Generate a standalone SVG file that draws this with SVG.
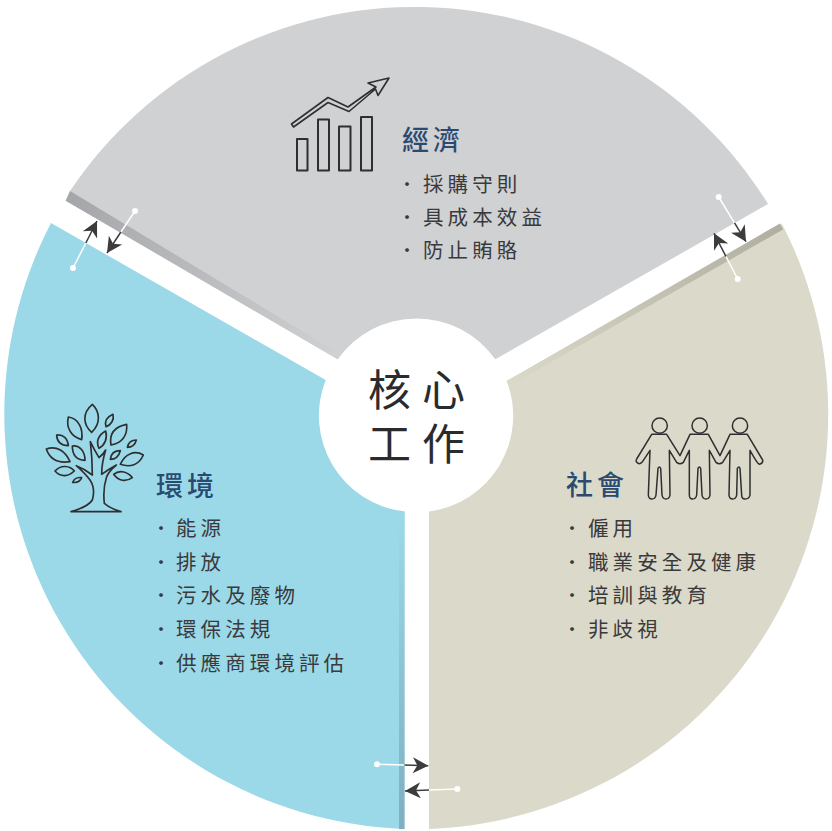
<svg xmlns="http://www.w3.org/2000/svg" width="832" height="831" viewBox="0 0 832 831">
<style>
text{font-family:"Noto Sans CJK TC","Noto Sans CJK SC",sans-serif}
.c{font-family:"Liberation Sans","Noto Sans CJK TC",sans-serif;font-size:43px;fill:#2b2b2d;letter-spacing:11px}
.h{font-size:27px;fill:#2c4a70;font-weight:500;letter-spacing:4px}
.i{font-size:20.500px;fill:#3a3a3c;letter-spacing:4.100px}
.b{fill:#3a3a3c}
.ic{fill:none;stroke:#2f2f31;stroke-linejoin:round;stroke-linecap:round}
.w{stroke:#fff;stroke-width:1.5;fill:none}
.d{stroke:#3c3c3e;stroke-width:1.5;fill:none;marker-end:url(#ah)}
.dot{fill:#fff}
</style>
<defs>
<marker id="ah" markerUnits="userSpaceOnUse" markerWidth="20" markerHeight="20" viewBox="-17 -10 20 20" refX="0" refY="0" orient="auto"><path d="M0,0L-15.500,-8L-11,0L-15.500,8Z" fill="#3c3c3e"/></marker>
<linearGradient id="gg" gradientUnits="userSpaceOnUse" x1="66" y1="198" x2="340" y2="356"><stop offset="0" stop-color="#a5a6a9"/><stop offset="1" stop-color="#d0d1d3"/></linearGradient>
<linearGradient id="gb" gradientUnits="userSpaceOnUse" x1="402" y1="829" x2="402" y2="512"><stop offset="0" stop-color="#7fafc1"/><stop offset="1" stop-color="#9bd9e9"/></linearGradient>
<linearGradient id="gy" gradientUnits="userSpaceOnUse" x1="782" y1="226" x2="507" y2="382"><stop offset="0" stop-color="#afae9f"/><stop offset="1" stop-color="#dbd9c9"/></linearGradient>
</defs>
<rect width="832" height="831" fill="#fff"/>
<g id="economy">
<path d="M70,191A415,415 0 0 1 768,204L495.300,359.300A96.500,96.500 0 0 0 337.700,359.300L65.700,200.700Z" fill="#d0d1d3"/>
<path d="M70,191L65.700,200.700L337.700,359.300L341,354.500Z" fill="url(#gg)"/>
<g class="ic" stroke-width="1.6">
<path d="M291.500,124L328,97.500L348,107L376,87L368,83L389,78L378,95.500L375.500,89L349,111.500L328,102.500L293.500,127Z"/>
<rect x="297" y="139" width="10.500" height="31.500" stroke-width="2"/>
<rect x="318" y="119.500" width="11" height="51" stroke-width="2"/>
<rect x="339" y="126.500" width="11.500" height="44" stroke-width="2"/>
<rect x="361" y="117" width="11" height="53.500" stroke-width="2"/>
</g>
<text class="h" x="402" y="150">經濟</text>
<text class="b" font-size="18" x="398" y="191">•</text><text class="i" x="423" y="192">採購守則</text>
<text class="b" font-size="18" x="398" y="224">•</text><text class="i" x="423" y="225">具成本效益</text>
<text class="b" font-size="18" x="398" y="257">•</text><text class="i" x="423" y="258">防止賄賂</text>
</g>
<g id="environment">
<path d="M51,223L325.700,380A96.500,96.500 0 0 0 404.500,511.500L404.500,829A415,415 0 0 1 51,223Z" fill="#9bd9e9"/>
<path d="M399,510.500L404.500,511.500L404.500,829L399,828.900Z" fill="url(#gb)"/>
<g class="ic" transform="translate(35,395) scale(.33333)" style="stroke-width:5">
<path d="M172,28C195,50,198,85,170,112C145,90,140,55,172,28Z"/>
<path d="M100,66C130,70,145,100,140,134C110,125,92,100,100,66Z"/>
<path d="M234,58C238,75,228,90,213,95C208,78,218,65,234,58Z"/>
<path d="M275,88C278,120,262,145,228,150C222,115,240,95,275,88Z"/>
<path d="M212,108C218,130,210,150,192,160C182,140,190,120,212,108Z"/>
<path d="M65,120C85,118,98,130,100,152C80,152,66,142,65,120Z"/>
<path d="M304,135C300,150,290,157,277,157C280,142,290,135,304,135Z"/>
<path d="M34,162C65,150,92,170,105,200C70,205,45,195,34,162Z"/>
<path d="M112,153C135,150,150,170,150,196C125,195,112,180,112,153Z"/>
<path d="M256,167C252,182,242,193,226,193C228,175,240,167,256,167Z"/>
<path d="M325,180C300,165,270,175,256,208C285,218,312,210,325,180Z"/>
<path d="M60,228C78,208,105,212,118,228C100,245,78,248,60,228Z"/>
<path d="M236,238C255,222,280,232,292,248C272,262,250,258,236,238Z"/>
<path d="M113,262C118,250,130,246,140,248C135,260,125,264,113,262Z"/>
<path d="M108,350Q160,335,172,315Q182,280,165,255Q150,235,124,212Q150,222,172,240Q172,190,166,140Q178,165,192,188Q205,178,212,165Q200,205,200,238Q222,222,244,210Q222,228,215,245Q203,280,208,325Q225,340,258,350Z"/>
</g>
<text class="h" x="156" y="496">環境</text>
<text class="b" font-size="18" x="152" y="535">•</text><text class="i" x="176" y="536">能源</text>
<text class="b" font-size="18" x="152" y="569">•</text><text class="i" x="176" y="570">排放</text>
<text class="b" font-size="18" x="152" y="602">•</text><text class="i" x="176" y="603">污水及廢物</text>
<text class="b" font-size="18" x="152" y="636">•</text><text class="i" x="176" y="637">環保法規</text>
<text class="b" font-size="18" x="152" y="670">•</text><text class="i" x="176" y="671">供應商環境評估</text>
</g>
<g id="society">
<path d="M782,224A415,415 0 0 1 429,829L429,511.500A96.500,96.500 0 0 0 506.700,381Z" fill="#dbd9c9"/>
<path d="M780,223.500L783,229.500L509,386L506.700,381Z" fill="url(#gy)"/>
<g class="ic" transform="translate(630,405) scale(.33333)" style="stroke-width:4.5">
<circle cx="89" cy="62" r="23"/><circle cx="209" cy="62" r="23"/><circle cx="330" cy="62" r="23"/>
<path d="M65,88L110,88L150,152L180,88L235,88L270,152L300,88L352,88L398,165Q400,175,388,178Q382,176,360,136L360,270Q358,282,345,282Q335,282,335,270L330,190Q327,182,322,190L320,270Q318,282,308,282Q298,282,297,270L300,136L278,172Q268,180,258,172L238,136L240,270Q238,282,228,282Q218,282,216,270L212,190Q208,182,204,190L200,270Q198,282,188,282Q178,282,178,270L178,136L160,172Q150,180,140,172L118,136L120,270Q118,282,108,282Q98,282,96,270L92,190Q88,182,84,190L78,270Q76,282,66,282Q56,282,55,270L60,136L36,172Q28,180,20,172Q17,168,20,162Z"/>
</g>
<text class="h" x="566" y="495">社會</text>
<text class="b" font-size="18" x="563" y="535">•</text><text class="i" x="588" y="536">僱用</text>
<text class="b" font-size="18" x="563" y="569">•</text><text class="i" x="588" y="570">職業安全及健康</text>
<text class="b" font-size="18" x="563" y="602">•</text><text class="i" x="588" y="603">培訓與教育</text>
<text class="b" font-size="18" x="563" y="636">•</text><text class="i" x="588" y="637">非歧視</text>
</g>
<g id="core">
<text class="c" x="368" y="406">核心</text>
<text class="c" x="368" y="460">工作</text>
</g>
<g id="connectors">
<path class="w" d="M73,268L85.800,243"/><path class="d" d="M85.800,243L97,221"/><circle class="dot" cx="73" cy="268" r="3"/>
<path class="w" d="M135,211L120.900,232"/><path class="d" d="M120.900,232L107,253"/><circle class="dot" cx="135" cy="211" r="3"/>
<path class="w" d="M718.700,197L734.500,222.900"/><path class="d" d="M734.500,222.900L746,241.700"/><circle class="dot" cx="718.700" cy="197" r="3"/>
<path class="w" d="M737.700,279L725.900,256.300"/><path class="d" d="M725.900,256.300L714,233.300"/><circle class="dot" cx="737.700" cy="279" r="3"/>
<path class="w" d="M377,764.300L404.500,765"/><path class="d" d="M404.500,765L428.300,765.700"/><circle class="dot" cx="377" cy="764.300" r="3"/>
<path class="w" d="M457.300,789L429,790"/><path class="d" d="M429,790L405,791"/><circle class="dot" cx="457.300" cy="789" r="3"/>
</g>
</svg>
